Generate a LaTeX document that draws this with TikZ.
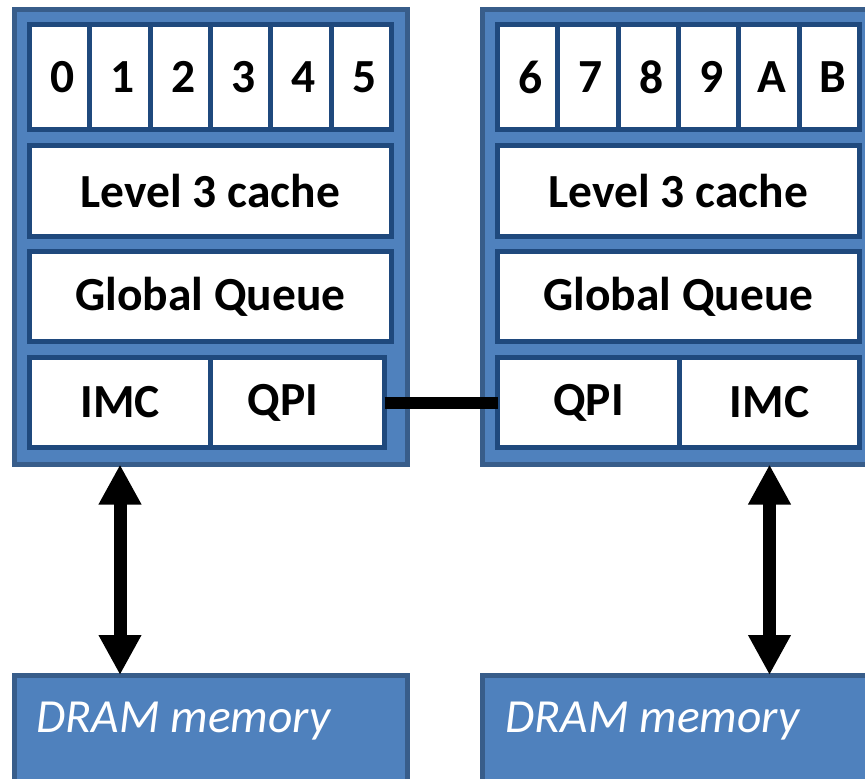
\documentclass[tikz,border=0pt]{standalone}
\usepackage{fontspec}
\setmainfont{Carlito}
\usetikzlibrary{arrows.meta,calc}
\definecolor{boxfill}{HTML}{4F81BD}
\definecolor{boxline}{HTML}{385D8A}
\definecolor{innerline}{HTML}{1F497D}
\tikzset{
  outerbox/.style={draw=boxline, fill=boxfill, line width=5pt, inner sep=0pt, outer sep=0pt},
  innerbox/.style={draw=innerline, fill=white, line width=5pt, inner sep=0pt, outer sep=0pt,
    font=\fontsize{47.5}{54}\selectfont\bfseries},
  corecell/.style={innerbox, minimum width=60.333pt, minimum height=105pt,
    label={[font=\fontsize{47.5}{54}\selectfont\bfseries, xshift=3pt]center:#1}},
  dramtext/.style={text=white, inner sep=0pt, font=\fontsize{47.5}{54}\selectfont\itshape},
  bus/.style={line width=12pt, black},
  memarrow/.style={line width=13pt, black, {Triangle[width=40pt,length=40pt]}-{Triangle[width=40pt,length=40pt]}}
}
\begin{document}
\begin{tikzpicture}[x=1pt, y=-1pt]
\useasboundingbox (0,0) rectangle (865,779);
% outer boxes
\node[outerbox, minimum width=393pt, minimum height=455pt] (L) at (211,237) {};
\node[outerbox, minimum width=393pt, minimum height=455pt] (R) at (679,237) {};
% core cells left
\node[corecell=0] (c0) at (59.67,77) {};
\node[corecell=1] (c1) at (120,77) {};
\node[corecell=2] (c2) at (180.33,77) {};
\node[corecell=3] (c3) at (240.67,77) {};
\node[corecell=4] (c4) at (301,77) {};
\node[corecell=5] (c5) at (361.33,77) {};
% core cells right
\node[corecell=6] (c6) at (527.67,77) {};
\node[corecell=7] (c7) at (588,77) {};
\node[corecell=8] (c8) at (648.33,77) {};
\node[corecell=9] (c9) at (708.67,77) {};
\node[corecell=A] (cA) at (769,77) {};
\node[corecell=B] (cB) at (829.33,77) {};
% L3 and queues
\node[innerbox, minimum width=362pt, minimum height=91pt] (LL3) at (210.5,191) {Level 3 cache};
\node[innerbox, minimum width=362pt, minimum height=91pt] (RL3) at (678.5,191) {Level 3 cache};
\node[innerbox, minimum width=362pt, minimum height=90pt] (LGQ) at (210.5,296.5) {Global Queue};
\node[innerbox, minimum width=362pt, minimum height=90pt] (RGQ) at (678.5,296.5) {Global Queue};
% IMC / QPI
\node[innerbox, minimum width=181pt, minimum height=90pt] (LI) at (120,402.5) {IMC};
\node[innerbox, minimum width=174pt, minimum height=90pt,
  label={[font=\fontsize{47.5}{54}\selectfont\bfseries, xshift=-14.5pt]center:QPI}] (LQ) at (297.5,402.5) {};
\node[innerbox, minimum width=182pt, minimum height=90pt] (RQ) at (588.5,402.5) {QPI};
\node[innerbox, minimum width=180pt, minimum height=90pt] (RI) at (769.5,402.5) {IMC};
% DRAM
\node[outerbox, minimum width=393pt, minimum height=125pt] (LD) at (211,737.5) {};
\node[outerbox, minimum width=393pt, minimum height=125pt] (RD) at (679,737.5) {};
\node[dramtext, anchor=base west] (LDt) at ($(LD.north west)+(22,57)$) {DRAM memory};
\node[dramtext, anchor=base west] (RDt) at ($(RD.north west)+(23,57)$) {DRAM memory};
% connectors
\draw[bus] (LQ.east) -- (RQ.west);
\draw[memarrow] (LI.south |- L.south) -- (LI.south |- LD.north);
\draw[memarrow] (RI.south |- R.south) -- (RI.south |- RD.north);
\end{tikzpicture}
\end{document}
